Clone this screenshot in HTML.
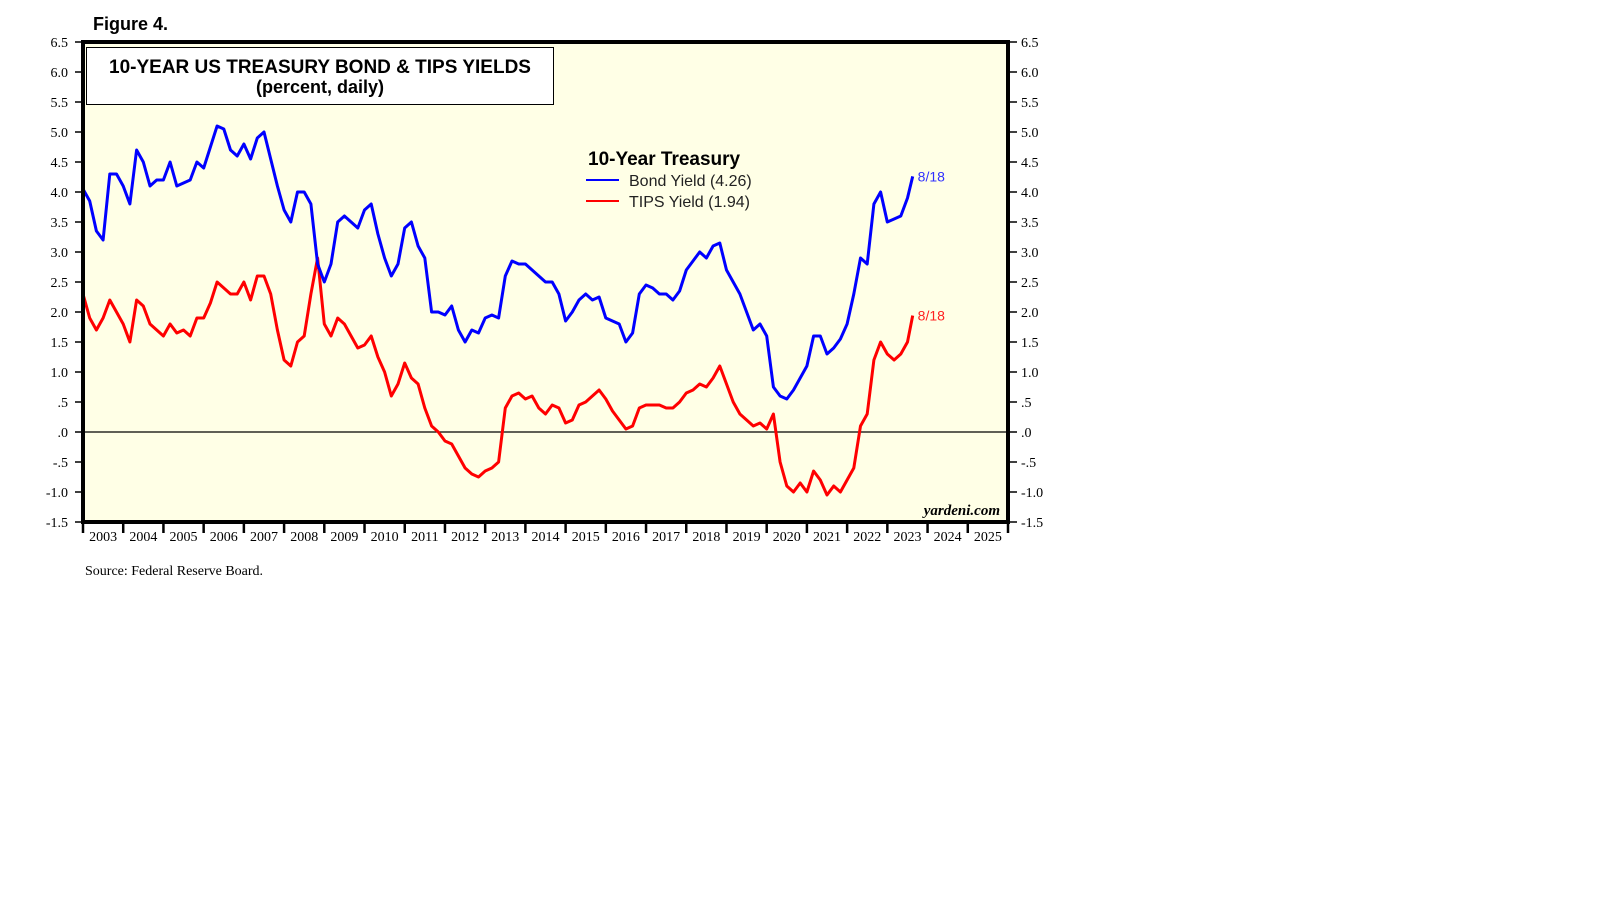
<!DOCTYPE html>
<html><head><meta charset="utf-8"><style>
body{margin:0;background:#fff;width:1610px;height:910px;overflow:hidden}
svg{display:block}
</style></head><body>
<svg id="chart" width="1610" height="910" xmlns="http://www.w3.org/2000/svg">
<text x="93" y="30" font-family="Liberation Sans, sans-serif" font-weight="bold" font-size="18">Figure 4.</text>
<rect x="83" y="42" width="925" height="480" fill="#ffffe6"/>
<g id="grid"></g>
<g id="series"></g>
<rect x="83" y="42" width="925" height="480" fill="none" stroke="#000" stroke-width="4"/>
<g>
<rect x="86.5" y="47.5" width="467" height="57" fill="#fff" stroke="#000" stroke-width="1"/>
<text x="320" y="73" text-anchor="middle" font-family="Liberation Sans, sans-serif" font-weight="bold" font-size="19">10-YEAR US TREASURY BOND &amp; TIPS YIELDS</text>
<text x="320" y="93" text-anchor="middle" font-family="Liberation Sans, sans-serif" font-weight="bold" font-size="18">(percent, daily)</text>
</g>
<g font-family="Liberation Sans, sans-serif">
<text x="588" y="165" font-weight="bold" font-size="19">10-Year Treasury</text>
<line x1="586" y1="180" x2="619" y2="180" stroke="#0000ff" stroke-width="2"/>
<text x="629" y="186" font-size="16" fill="#222">Bond Yield (4.26)</text>
<line x1="586" y1="201" x2="619" y2="201" stroke="#ff0000" stroke-width="2"/>
<text x="629" y="207" font-size="16" fill="#222">TIPS Yield (1.94)</text>
</g>
<text x="1000" y="515" text-anchor="end" font-family="Liberation Serif, serif" font-style="italic" font-weight="bold" font-size="15">yardeni.com</text>
<text x="85" y="575" font-family="Liberation Serif, serif" font-size="14">Source: Federal Reserve Board.</text>
</svg>
<script>
const yTicks=[6.5,6.0,5.5,5.0,4.5,4.0,3.5,3.0,2.5,2.0,1.5,1.0,0.5,0,-0.5,-1.0,-1.5];
const yTickLabels=["6.5","6.0","5.5","5.0","4.5","4.0","3.5","3.0","2.5","2.0","1.5","1.0",".5",".0","-.5","-1.0","-1.5"];
const years=[2003,2004,2005,2006,2007,2008,2009,2010,2011,2012,2013,2014,2015,2016,2017,2018,2019,2020,2021,2022,2023,2024,2025];
const startDate=2003.0, stepYears=1/6, lastDate=2023.63;
const bondYield=[
4.05,3.85,3.35,3.2,4.3,4.3,
4.1,3.8,4.7,4.5,4.1,4.2,
4.2,4.5,4.1,4.15,4.2,4.5,
4.4,4.75,5.1,5.05,4.7,4.6,
4.8,4.55,4.9,5.0,4.55,4.1,
3.7,3.5,4.0,4.0,3.8,2.8,
2.5,2.8,3.5,3.6,3.5,3.4,
3.7,3.8,3.3,2.9,2.6,2.8,
3.4,3.5,3.1,2.9,2.0,2.0,
1.95,2.1,1.7,1.5,1.7,1.65,
1.9,1.95,1.9,2.6,2.85,2.8,
2.8,2.7,2.6,2.5,2.5,2.3,
1.85,2.0,2.2,2.3,2.2,2.25,
1.9,1.85,1.8,1.5,1.65,2.3,
2.45,2.4,2.3,2.3,2.2,2.35,
2.7,2.85,3.0,2.9,3.1,3.15,
2.7,2.5,2.3,2.0,1.7,1.8,
1.6,0.75,0.6,0.55,0.7,0.9,
1.1,1.6,1.6,1.3,1.4,1.55,
1.8,2.3,2.9,2.8,3.8,4.0,
3.5,3.55,3.6,3.9,4.26];
const tipsYield=[
2.3,1.9,1.7,1.9,2.2,2.0,
1.8,1.5,2.2,2.1,1.8,1.7,
1.6,1.8,1.65,1.7,1.6,1.9,
1.9,2.15,2.5,2.4,2.3,2.3,
2.5,2.2,2.6,2.6,2.3,1.7,
1.2,1.1,1.5,1.6,2.3,2.9,
1.8,1.6,1.9,1.8,1.6,1.4,
1.45,1.6,1.25,1.0,0.6,0.8,
1.15,0.9,0.8,0.4,0.1,0.0,
-0.15,-0.2,-0.4,-0.6,-0.7,-0.75,
-0.65,-0.6,-0.5,0.4,0.6,0.65,
0.55,0.6,0.4,0.3,0.45,0.4,
0.15,0.2,0.45,0.5,0.6,0.7,
0.55,0.35,0.2,0.05,0.1,0.4,
0.45,0.45,0.45,0.4,0.4,0.5,
0.65,0.7,0.8,0.75,0.9,1.1,
0.8,0.5,0.3,0.2,0.1,0.15,
0.05,0.3,-0.5,-0.9,-1.0,-0.85,
-1.0,-0.65,-0.8,-1.05,-0.9,-1.0,
-0.8,-0.6,0.1,0.3,1.2,1.5,
1.3,1.2,1.3,1.5,1.94];
const lastLabel="8/18";

const NS="http://www.w3.org/2000/svg";
const X0=83,X1=1008,Y0=42,Y1=522,T0=2003,T1=2026,V0=-1.5,V1=6.5;
function xScale(t){return X0+(t-T0)/(T1-T0)*(X1-X0);}
function yScale(v){return Y1-(v-V0)/(V1-V0)*(Y1-Y0);}
function mk(tag,attrs,parent){const e=document.createElementNS(NS,tag);for(const k in attrs)e.setAttribute(k,attrs[k]);parent.appendChild(e);return e;}
const grid=document.getElementById('grid');
const svg=document.getElementById('chart');
yTicks.forEach((v,i)=>{
  const y=yScale(v);
  const l=mk('line',{x1:75,x2:X0,y1:y,y2:y,stroke:'#000','stroke-width':1.5},svg);
  
  
  const r=mk('line',{x1:X1,x2:1017,y1:y,y2:y,stroke:'#000','stroke-width':1.5},svg);
  
  
  const tl=mk('text',{x:68,y:y+5,'text-anchor':'end','font-family':'Liberation Serif, serif','font-size':14},svg);
  tl.textContent=yTickLabels[i];
  
  
  const tr=mk('text',{x:1021,y:y+5,'font-family':'Liberation Serif, serif','font-size':14},svg);
  tr.textContent=yTickLabels[i];
  
  
});
const z=mk('line',{x1:X0,x2:X1,y1:yScale(0),y2:yScale(0),stroke:'#000','stroke-width':1.2},grid);


years.forEach(yr=>{
  const x=xScale(yr);
  const t=mk('line',{x1:x,x2:x,y1:Y1,y2:Y1+11,stroke:'#000','stroke-width':2.5},svg);
  
  
  const lb=mk('text',{x:xScale(yr+0.5),y:Y1+19,'text-anchor':'middle','font-family':'Liberation Serif, serif','font-size':14},svg);
  lb.textContent=String(yr);
  
  
});
const et=mk('line',{x1:X1,x2:X1,y1:Y1,y2:Y1+11,stroke:'#000','stroke-width':2.5},svg);


const ser=document.getElementById('series');
function dateAt(i,n){return i===n-1?lastDate:startDate+i*stepYears;}
function draw(vals,color,name,labelColor){
  const pts=vals.map((v,i)=>xScale(dateAt(i,vals.length)).toFixed(1)+','+yScale(v).toFixed(1)).join(' ');
  const p=mk('polyline',{points:pts,fill:'none',stroke:color,'stroke-width':3,'stroke-linejoin':'round'},ser);
  
  
  const lv=vals[vals.length-1];
  const t=mk('text',{x:xScale(lastDate)+5,y:yScale(lv)+5,fill:labelColor,'font-family':'Liberation Sans, sans-serif','font-size':14},svg);
  t.textContent=lastLabel;
  
  
}
draw(tipsYield,'#ff0000','tips-yield-line','#ff2020');
draw(bondYield,'#0000ff','bond-yield-line','#3030ff');
</script>
</body></html>
